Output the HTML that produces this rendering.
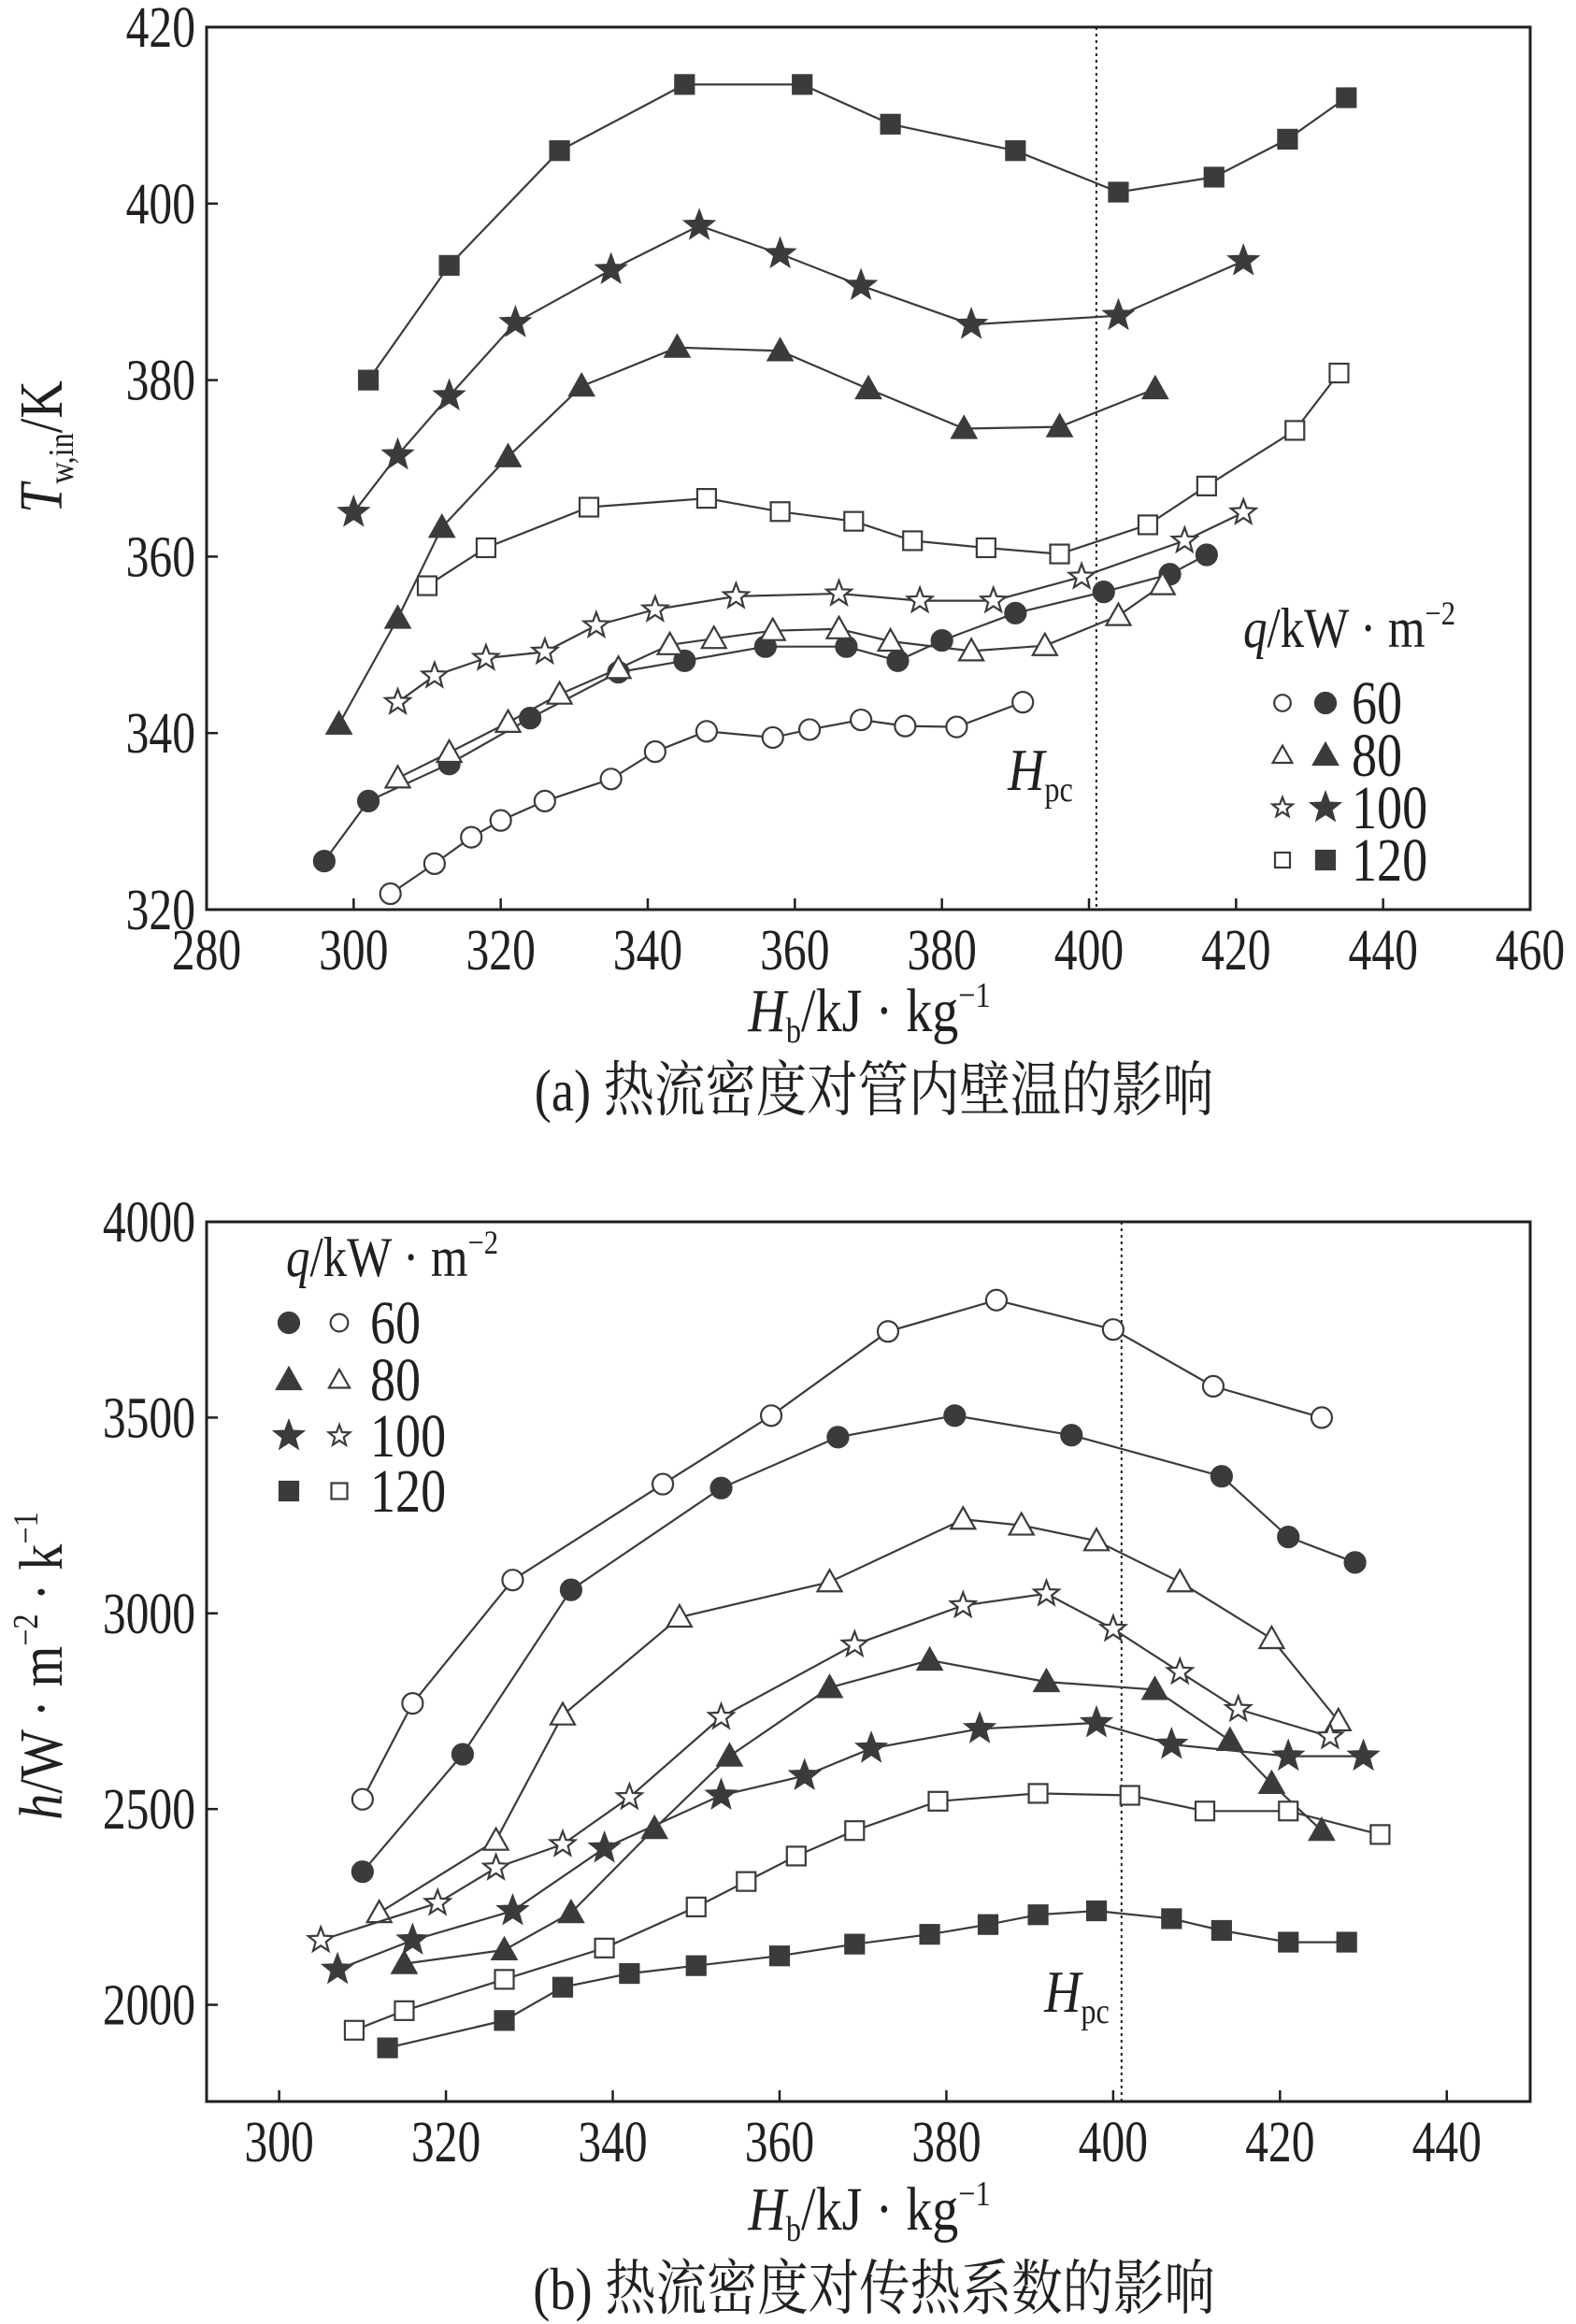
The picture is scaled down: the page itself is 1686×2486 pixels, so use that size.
<!DOCTYPE html>
<html><head><meta charset="utf-8"><style>
html,body{margin:0;padding:0;background:#fff}
svg{display:block}
text{font-family:"Liberation Serif","Noto Serif CJK SC",serif;fill:#231f20}
</style></head><body>
<svg id="svg" width="1686" height="2486" viewBox="0 0 1686 2486" xmlns="http://www.w3.org/2000/svg"></svg>
<script>
// ---- chart (a) data ----
const aXTicks=[280,300,320,340,360,380,400,420,440,460];
const aYTicks=[320,340,360,380,400,420];
const a120fX=[302,313,328,345,361,373,390,404,417,427,435];
const a120fY=[380,393,406,413.5,413.5,409,406,401.3,403,407.3,412];
const a100fX=[300,306,313,322,335,347,358,369,384,404,421];
const a100fY=[365,371.5,378.2,386.5,392.5,397.5,394.3,390.7,386.3,387.3,393.5];
const a80fX=[298,306,312,321,331,344,358,370,383,396,409];
const a80fY=[341,353,363.3,371.3,379.3,383.7,383.3,379,374.5,374.7,379];
const a120oX=[310,318,332,348,358,368,376,386,396,408,416,428,434];
const a120oY=[356.7,361,365.6,366.6,365.1,364,361.8,361,360.3,363.6,368,374.3,380.8];
const a100oX=[306,311,318,326,333,341,352,366,377,387,399,413,421];
const a100oY=[343.5,346.5,348.5,349.2,352.2,354,355.5,355.8,355,355,357.7,361.8,365];
const a60fX=[296,302,313,324,336,345,356,367,374,380,390,402,411,416];
const a60fY=[325.5,332.3,336.5,341.7,346.9,348.2,349.8,349.8,348.2,350.5,353.6,356,358,360.2];
const a80oX=[306,313,321,328,336,343,349,357,366,373,384,394,404,410];
const a80oY=[334.9,337.8,341.2,344.4,347.3,350,350.7,351.6,351.8,350.4,349.3,349.9,353.3,356.8];
const a60oX=[305,311,316,320,326,335,341,348,357,362,369,375,382,391];
const a60oY=[321.8,325.2,328.2,330.1,332.3,334.8,337.9,340.2,339.5,340.4,341.5,340.8,340.7,343.5];
// ---- chart (b) data ----
const bXTicks=[300,320,340,360,380,400,420,440];
const bYTicks=[2000,2500,3000,3500,4000];
const b60oX=[310,316,328,346,359,373,386,400,412,425];
const b60oY=[2525,2770,3085,3330,3505,3720,3800,3725,3580,3500];
const b60fX=[310,322,335,353,367,381,395,413,421,429];
const b60fY=[2340,2640,3060,3320,3450,3505,3455,3350,3195,3130];
const b80oX=[312,326,334,348,366,382,389,398,408,419,427];
const b80oY=[2235,2420,2740,2990,3080,3240,3225,3185,3080,2935,2725];
const b100oX=[305,319,326,334,342,353,369,382,392,400,408,415,426];
const b100oY=[2165,2260,2350,2410,2530,2735,2920,3020,3050,2960,2850,2755,2685];
const b80fX=[315,327,335,345,354,366,378,392,405,414,419,425];
const b80fY=[2105,2140,2235,2450,2635,2810,2880,2825,2805,2675,2565,2445];
const b100fX=[307,316,328,339,353,363,371,384,398,407,421,430];
const b100fY=[2090,2165,2240,2400,2535,2585,2655,2705,2720,2665,2635,2635];
const b120oX=[309,315,327,339,350,356,362,369,379,391,402,411,421,432];
const b120oY=[1935,1985,2065,2145,2250,2315,2380,2445,2520,2540,2535,2495,2495,2435];
const b120fX=[313,327,334,342,350,360,369,378,385,391,398,407,413,421,428];
const b120fY=[1890,1960,2045,2080,2100,2125,2155,2180,2205,2230,2240,2220,2190,2160,2160];

const NS="http://www.w3.org/2000/svg";
const svg=document.getElementById('svg');
const DARK="#3d3a3a";
function mk(tag,attrs,parent){const e=document.createElementNS(NS,tag);for(const k in attrs)e.setAttribute(k,attrs[k]);(parent||svg).appendChild(e);return e;}
function txt(s,x,y,size,anchor,parent,extra){const t=mk('text',Object.assign({x:x,y:y,'font-size':size,'text-anchor':anchor||'middle'},extra||{}),parent);t.innerHTML=s;return t;}
// condensed text: tall glyphs, narrower width
function ctxt(s,x,y,size,anchor,parent,sx){const t=mk('text',{x:0,y:0,'font-size':size,'text-anchor':anchor||'middle',transform:`translate(${x},${y}) scale(${sx||0.8},1)`},parent);t.innerHTML=s;return t;}
function starPts(cx,cy,R){const r=R*0.42;let p=[];for(let i=0;i<10;i++){const a=-Math.PI/2+i*Math.PI/5;const rr=i%2?r:R;p.push((cx+rr*Math.cos(a)).toFixed(1)+','+(cy+rr*Math.sin(a)).toFixed(1));}return p.join(' ');}
function marker(g,shape,filled,x,y,s){
  const fill=filled?DARK:'#fff',st={fill:fill,stroke:DARK,'stroke-width':2.2};
  let m;
  if(shape==='c')m=mk('circle',Object.assign({cx:x,cy:y,r:11*s},st),g);
  else if(shape==='s')m=mk('rect',Object.assign({x:x-10*s,y:y-10*s,width:20*s,height:20*s},st),g);
  else if(shape==='t')m=mk('polygon',Object.assign({points:`${x},${y-13*s} ${x-13*s},${y+10*s} ${x+13*s},${y+10*s}`},st),g);
  else m=mk('polygon',Object.assign({points:starPts(x,y,(filled?16:14)*s)},st),g);
  return m;
}
function chart(cfg){
  const g=mk('g',{});
  
  
  const X=v=>cfg.L+(v-cfg.x0)/(cfg.x1-cfg.x0)*(cfg.R-cfg.L);
  const Y=v=>cfg.B-(v-cfg.y0)/(cfg.y1-cfg.y0)*(cfg.B-cfg.T);
  const fr=mk('rect',{x:cfg.L,y:cfg.T,width:cfg.R-cfg.L,height:cfg.B-cfg.T,fill:'none',stroke:'#231f20','stroke-width':3},g);
  
  
  cfg.xt.forEach(v=>{mk('line',{x1:X(v),x2:X(v),y1:cfg.B,y2:cfg.B-12,stroke:'#231f20','stroke-width':2.5},g);
    const t=ctxt(String(v),X(v),cfg.B+64,62,'middle',g);
    
    });
  cfg.yt.forEach(v=>{mk('line',{x1:cfg.L,x2:cfg.L+12,y1:Y(v),y2:Y(v),stroke:'#231f20','stroke-width':2.5},g);
    const t=ctxt(String(v),cfg.L-12,Y(v)+21,62,'end',g);
    
    });
  const hl=mk('line',{x1:X(cfg.hpc),x2:X(cfg.hpc),y1:cfg.T,y2:cfg.B,stroke:'#231f20','stroke-width':2,'stroke-dasharray':'3,4'},g);
  
  
  cfg.series.forEach(s=>{
    const sg=mk('g',{},g);
    
    
    const pts=s.x.map((v,i)=>X(v).toFixed(1)+','+Y(s.y[i]).toFixed(1)).join(' ');
    mk('polyline',{points:pts,fill:'none',stroke:DARK,'stroke-width':2.2},sg);
    s.x.forEach((v,i)=>{const m=marker(sg,s.shape,s.filled,X(v),Y(s.y[i]),1);
      
      });
  });
  return g;
}
chart({name:'chart-a',L:221,R:1637,T:29,B:973,x0:280,x1:460,y0:320,y1:420,xt:aXTicks,yt:aYTicks,hpc:401,
 series:[{name:'a-120-filled',x:a120fX,y:a120fY,shape:'s',filled:1},{name:'a-100-filled',x:a100fX,y:a100fY,shape:'*',filled:1},
 {name:'a-80-filled',x:a80fX,y:a80fY,shape:'t',filled:1},{name:'a-120-open',x:a120oX,y:a120oY,shape:'s',filled:0},
 {name:'a-100-open',x:a100oX,y:a100oY,shape:'*',filled:0},{name:'a-60-filled',x:a60fX,y:a60fY,shape:'c',filled:1},
 {name:'a-80-open',x:a80oX,y:a80oY,shape:'t',filled:0},{name:'a-60-open',x:a60oX,y:a60oY,shape:'c',filled:0}]});
chart({name:'chart-b',L:221,R:1637,T:1307,B:2248,x0:291.3,x1:450,y0:1753,y1:4000,xt:bXTicks,yt:bYTicks,hpc:401,
 series:[{name:'b-60-open',x:b60oX,y:b60oY,shape:'c',filled:0},{name:'b-60-filled',x:b60fX,y:b60fY,shape:'c',filled:1},
 {name:'b-80-open',x:b80oX,y:b80oY,shape:'t',filled:0},{name:'b-100-open',x:b100oX,y:b100oY,shape:'*',filled:0},
 {name:'b-80-filled',x:b80fX,y:b80fY,shape:'t',filled:1},{name:'b-100-filled',x:b100fX,y:b100fY,shape:'*',filled:1},
 {name:'b-120-open',x:b120oX,y:b120oY,shape:'s',filled:0},{name:'b-120-filled',x:b120fX,y:b120fY,shape:'s',filled:1}]});

// legends
function legend(name,tx,ty,mx1,mx2,textX,ys,firstFilled){
  const g=mk('g',{});
  
  
  const t=mk('text',{x:0,y:0,'font-size':60,'text-anchor':'start',transform:`translate(${tx},${ty}) scale(0.85,1)`},g);
  t.innerHTML='<tspan font-style="italic">q</tspan>/kW · m<tspan font-size="36" dy="-24">−2</tspan>';
  const labels=['60','80','100','120'],shapes=['c','t','*','s'];
  labels.forEach((l,i)=>{
    const e=mk('g',{},g);
    
    
    marker(e,shapes[i],firstFilled?1:0,mx1,ys[i],firstFilled?1:0.8);
    marker(e,shapes[i],firstFilled?0:1,mx2,ys[i],firstFilled?0.85:1);
    ctxt(l,textX,ys[i]+22,66,'start',e,0.82);
  });
}
legend('legend-a',1330,692,1372,1418,1446,[752,808,864,920],0);
legend('legend-b',306,1365,309,363,396,[1415,1476,1536,1595],1);

// axis titles & captions
function label(name,html,x,y,size,anchor,tr){const t=mk('text',{x:0,y:0,'font-size':size,'text-anchor':anchor||'middle',transform:tr||`translate(${x},${y}) scale(0.85,1)`});t.innerHTML=html;return t;}
const xt='<tspan font-style="italic">H</tspan><tspan font-size="38" dy="12">b</tspan><tspan dy="-12">/kJ · kg</tspan><tspan font-size="38" dy="-26">−1</tspan>';
label('x-axis-title-a',xt,930,1103,66);
label('caption-a','(a) 热流密度对管内壁温的影响',935,1188,64);
label('x-axis-title-b',xt,930,2385,66);
label('caption-b','(b) 热流密度对传热系数的影响',935,2470,64);
label('y-axis-title-a','<tspan font-style="italic">T</tspan><tspan font-size="38" dy="12">w,in</tspan><tspan dy="-12">/K</tspan>',0,0,66,'middle','translate(66,478) rotate(-90) scale(0.85,1)');
label('y-axis-title-b','<tspan font-style="italic">h</tspan>/W · m<tspan font-size="38" dy="-26">−2</tspan><tspan dy="26"> · k</tspan><tspan font-size="38" dy="-26">−1</tspan>',0,0,66,'middle','translate(66,1782) rotate(-90) scale(0.85,1)');
label('hpc-label-a','<tspan font-style="italic">H</tspan><tspan font-size="38" dy="12">pc</tspan>',1113,845,64);
label('hpc-label-b','<tspan font-style="italic">H</tspan><tspan font-size="38" dy="12">pc</tspan>',1152,2152,64);
</script>
</body></html>
